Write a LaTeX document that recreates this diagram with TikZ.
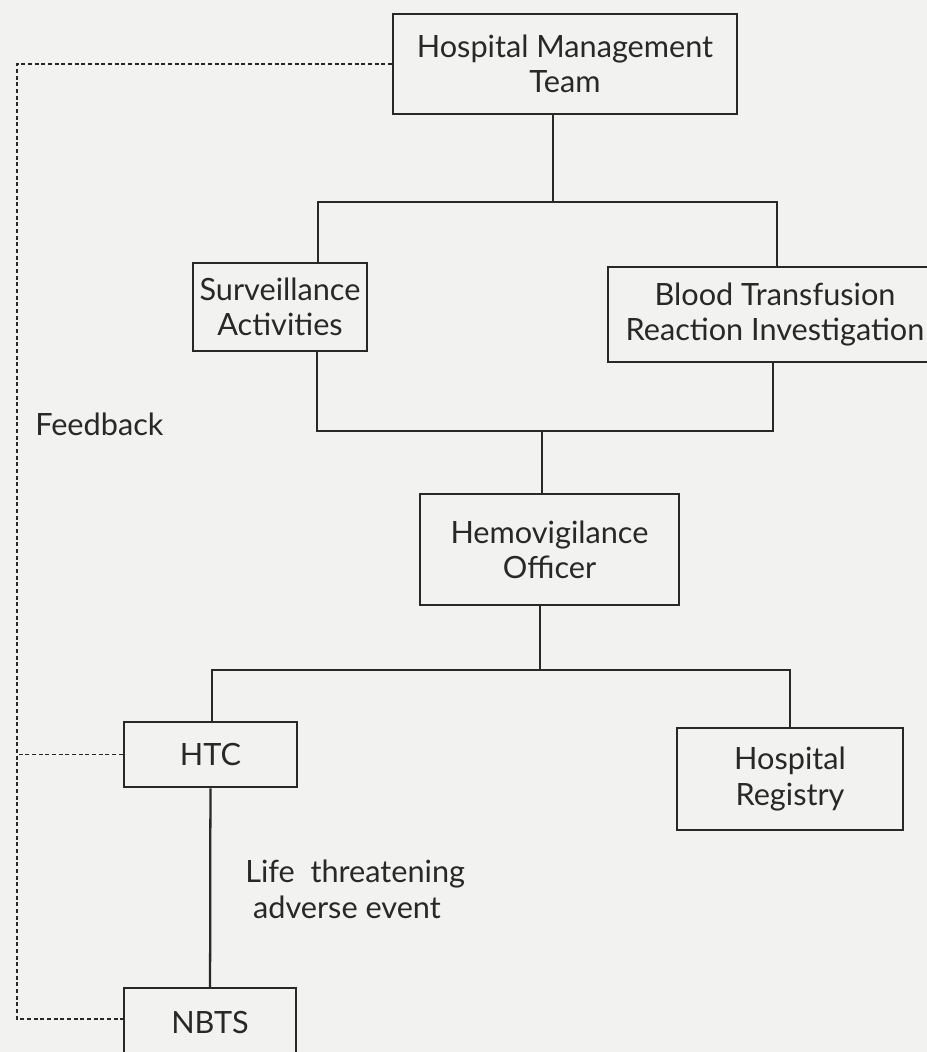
\documentclass[tikz,border=0pt]{standalone}
\usepackage{fontspec}
\setmainfont{Lato}
\usepackage{tikz}

\definecolor{paper}{RGB}{242,242,240}
\definecolor{ink}{RGB}{40,40,40}

\tikzset{
  box/.style={draw=ink, line width=1.7pt, align=center, inner sep=0pt,
    font=\fontsize{23}{26.5}\selectfont, text=ink},
  link/.style={draw=ink, line width=1.7pt},
  fb/.style={draw=ink, line width=0.8pt, dash pattern=on 3pt off 2pt},
  lbl/.style={inner sep=0pt, align=left, font=\fontsize{23}{26.5}\selectfont, text=ink}
}

\begin{document}
\begin{tikzpicture}[x=0.75pt,y=0.75pt,yscale=-1,xscale=1]
\useasboundingbox[fill=paper] (0,0) rectangle (927,1052);

% Boxes
\node[box, minimum width=258pt, minimum height=75pt] (hmt) at (565,64) {Hospital Management\\Team};
\node[box, minimum width=130.5pt, minimum height=66pt] (surv) at (280,307) {Surveillance\\Activities};
\node[box, minimum width=250.5pt, minimum height=71pt] (btri) at (775,314.5) {Blood Transfusion\\Reaction Investigation};
\node[box, minimum width=194pt, minimum height=83pt] (hemo) at (549.5,549.5) {Hemovigilance\\Officer};
\node[box, minimum width=130pt, minimum height=49pt] (htc) at (210.5,754.5) {HTC};
\node[box, minimum width=169.5pt, minimum height=76.5pt] (reg) at (790,779) {Hospital\\Registry};
\node[box, minimum width=129pt, minimum height=52.5pt] (nbts) at (210,1023) {NBTS};

% bus points
\coordinate (hmtDrop) at (553,114);
\coordinate (sT) at (318,202);
\coordinate (bT) at (777,202);
\coordinate (sB) at (317,431);
\coordinate (bB) at (773,431);
\coordinate (hT) at (542,431);
\coordinate (hB) at (540,670);
\coordinate (hL) at (212,670);
\coordinate (fbc) at (17,1019);

% Tree lines
\draw[link] (hmtDrop) -- (hmtDrop |- sT);
\draw[link] (sT |- surv.north) -- (sT) -- (bT) -- (bT |- btri.north);
\draw[link] (sB |- surv.south) -- (sB) -- (bB) -- (bB |- btri.south);
\draw[link] (hT |- hemo.north) -- (hT);
\draw[link] (hB |- hemo.south) -- (hB);
\draw[link] (hL |- htc.north) -- (hL) -- (reg.north |- hL) -- (reg.north);
\draw[link] (htc) -- (nbts);

% Feedback lines
\draw[fb] (hmt.west) -| (fbc) -- (nbts.west |- fbc);
\draw[fb] (htc.west) -- (htc.west -| fbc);

% Labels
\node[lbl, anchor=base west] (feed) at (35,435) {Feedback};
\node[lbl, anchor=base west] (life) at (245,918) {Life\ \ threatening\\\ adverse event};

\end{tikzpicture}
\end{document}
